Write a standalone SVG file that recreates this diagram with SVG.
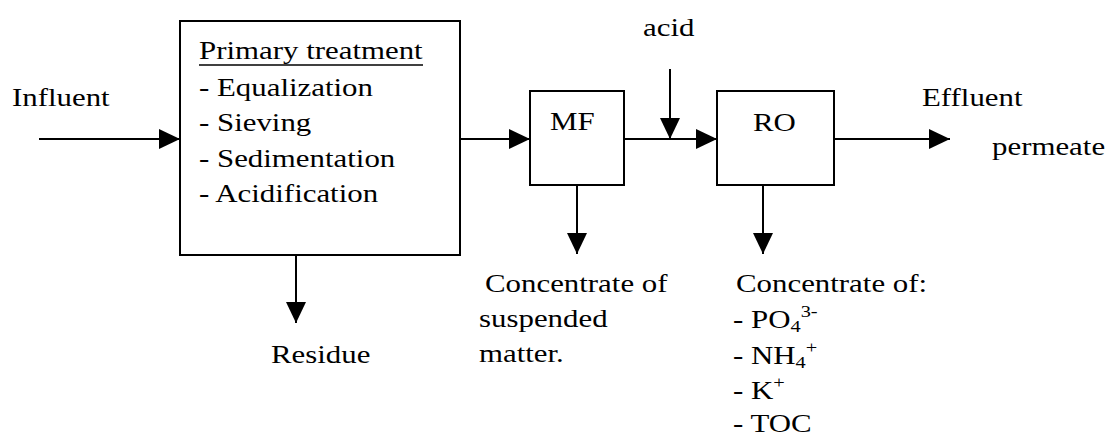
<svg xmlns="http://www.w3.org/2000/svg" width="1112" height="436" viewBox="0 0 1112 436">
<defs>
<style>
.t{font-family:"Liberation Serif","Times New Roman",serif;font-size:25px;fill:#000}
.box{fill:#fff;stroke:#000;stroke-width:2}
.c{fill:none;stroke:#000;stroke-width:2}
.s{font-size:16.5px}
</style>
<marker id="ah" markerUnits="userSpaceOnUse" markerWidth="21" markerHeight="20" refX="21" refY="10" orient="auto" viewBox="0 0 21 20">
<path d="M0,0 L21,10 L0,20 Z" fill="#000"/>
</marker>
</defs>
<rect width="1112" height="436" fill="#fff"/>
<g id="connectors">
<path class="c" d="M39,139 H180" marker-end="url(#ah)"/>
<path class="c" d="M460,139 H530" marker-end="url(#ah)"/>
<path class="c" d="M624,139 H717" marker-end="url(#ah)"/>
<path class="c" d="M670,69 V139" marker-end="url(#ah)"/>
<path class="c" d="M834,139 H950" marker-end="url(#ah)"/>
<path class="c" d="M296,255 V323" marker-end="url(#ah)"/>
<path class="c" d="M577,185 V254" marker-end="url(#ah)"/>
<path class="c" d="M763,185 V254" marker-end="url(#ah)"/>
</g>
<g id="influent">
<text class="t" transform="translate(12 106) scale(1.235 1)">Influent</text>
</g>
<g id="primary">
<rect class="box" x="180" y="21" width="280" height="234"/>
<text class="t" transform="translate(199 59) scale(1.235 1)">Primary treatment</text>
<line x1="199" y1="65" x2="423" y2="65" stroke="#000" stroke-width="1.6"/>
<text class="t" transform="translate(199 96) scale(1.235 1)">- Equalization</text>
<text class="t" transform="translate(199 131) scale(1.235 1)">- Sieving</text>
<text class="t" transform="translate(199 167) scale(1.235 1)">- Sedimentation</text>
<text class="t" transform="translate(199 202) scale(1.235 1)">- Acidification</text>
</g>
<g id="residue">
<text class="t" transform="translate(271 363) scale(1.235 1)">Residue</text>
</g>
<g id="mf">
<rect class="box" x="530" y="91" width="94" height="94"/>
<text class="t" transform="translate(550 130) scale(1.235 1)">MF</text>
</g>
<g id="acid">
<text class="t" transform="translate(643 36) scale(1.235 1)">acid</text>
</g>
<g id="mf-concentrate">
<text class="t" transform="translate(485 292) scale(1.235 1)">Concentrate of</text>
<text class="t" transform="translate(479 327) scale(1.235 1)">suspended</text>
<text class="t" transform="translate(479 362) scale(1.235 1)">matter.</text>
</g>
<g id="ro">
<rect class="box" x="717" y="91" width="117" height="94"/>
<text class="t" transform="translate(753 131) scale(1.235 1)">RO</text>
</g>
<g id="effluent">
<text class="t" transform="translate(922 106) scale(1.235 1)">Effluent</text>
<text class="t" transform="translate(992 155) scale(1.235 1)">permeate</text>
</g>
<g id="ro-concentrate">
<text class="t" transform="translate(736 292) scale(1.235 1)">Concentrate of:</text>
<text class="t" transform="translate(733 328) scale(1.235 1)">- PO<tspan class="s" dy="4">4</tspan><tspan class="s" dy="-15">3-</tspan></text>
<text class="t" transform="translate(733 364) scale(1.235 1)">- NH<tspan class="s" dy="4">4</tspan><tspan class="s" dy="-15">+</tspan></text>
<text class="t" transform="translate(733 399) scale(1.235 1)">- K<tspan class="s" dy="-11">+</tspan></text>
<text class="t" transform="translate(733 432) scale(1.235 1)">- TOC</text>
</g>
</svg>
